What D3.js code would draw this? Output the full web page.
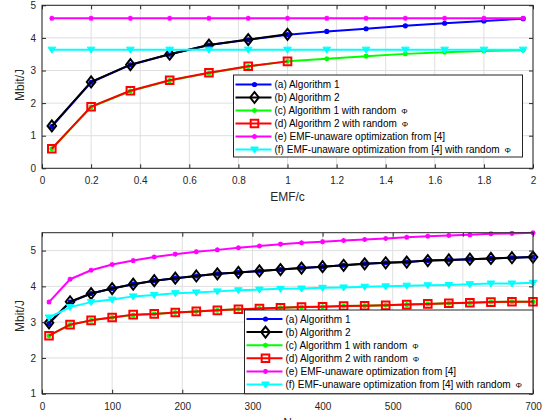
<!DOCTYPE html>
<html>
<head>
<meta charset="utf-8">
<script src="https://cdn.jsdelivr.net/npm/d3@7"></script>
<style>
  body { margin: 0; background: #fff; }
  svg { display: block; font-family: "Liberation Sans", Arial, Helvetica, sans-serif; }
</style>
</head>
<body>
<script>
// data top panel (x = EMF/c)
var topX = [0.04, 0.2, 0.36, 0.52, 0.68, 0.84, 1.0, 1.16, 1.32, 1.48, 1.64, 1.8, 1.96];
var topAlg1 = [1.28, 2.64, 3.17, 3.5, 3.78, 3.94, 4.1, 4.2, 4.28, 4.37, 4.45, 4.52, 4.59];
var topAlg2 = [1.3, 2.65, 3.18, 3.5, 3.78, 3.95, 4.11];
var topAlg1Rand = [0.6, 1.88, 2.37, 2.69, 2.92, 3.12, 3.28, 3.36, 3.44, 3.51, 3.56, 3.6, 3.62];
var topAlg2Rand = [0.6, 1.89, 2.38, 2.7, 2.93, 3.13, 3.28];
var topEmf = [4.6, 4.6, 4.6, 4.6, 4.6, 4.6, 4.6, 4.6, 4.6, 4.6, 4.6, 4.6, 4.6];
var topEmfRand = [3.64, 3.64, 3.64, 3.64, 3.64, 3.64, 3.64, 3.64, 3.64, 3.64, 3.64, 3.64, 3.64];

// data bottom panel (x = N)
var botX = [10, 40, 70, 100, 130, 160, 190, 220, 250, 280, 310, 340, 370, 400, 430, 460, 490, 520, 550, 580, 610, 640, 670, 700];
var botAlg1 = [2.96, 3.56, 3.8, 3.94, 4.06, 4.16, 4.23, 4.29, 4.35, 4.39, 4.43, 4.47, 4.51, 4.55, 4.59, 4.63, 4.66, 4.68, 4.72, 4.74, 4.76, 4.78, 4.8, 4.82];
var botAlg2 = [2.98, 3.57, 3.8, 3.94, 4.06, 4.16, 4.23, 4.29, 4.35, 4.39, 4.43, 4.47, 4.51, 4.55, 4.59, 4.63, 4.66, 4.68, 4.72, 4.74, 4.76, 4.78, 4.8, 4.82];
var botAlg1Rand = [2.62, 2.93, 3.05, 3.13, 3.2, 3.23, 3.27, 3.3, 3.33, 3.36, 3.38, 3.4, 3.42, 3.43, 3.45, 3.46, 3.47, 3.49, 3.51, 3.53, 3.54, 3.56, 3.57, 3.57];
var botAlg2Rand = [2.62, 2.93, 3.05, 3.13, 3.21, 3.23, 3.27, 3.3, 3.33, 3.36, 3.38, 3.4, 3.42, 3.43, 3.45, 3.46, 3.47, 3.49, 3.51, 3.53, 3.54, 3.56, 3.57, 3.57];
var botEmf = [3.56, 4.2, 4.45, 4.61, 4.72, 4.82, 4.9, 4.97, 5.02, 5.08, 5.13, 5.18, 5.22, 5.25, 5.28, 5.31, 5.34, 5.37, 5.4, 5.42, 5.44, 5.47, 5.48, 5.5];
var botEmfRand = [3.13, 3.42, 3.56, 3.63, 3.72, 3.76, 3.81, 3.83, 3.86, 3.89, 3.91, 3.93, 3.94, 3.96, 3.97, 3.99, 4.0, 4.02, 4.03, 4.04, 4.06, 4.08, 4.08, 4.1];

var labels = [
  "(a) Algorithm 1",
  "(b) Algorithm 2",
  "(c) Algorithm 1 with random",
  "(d) Algorithm 2 with random",
  "(e) EMF-unaware optimization from [4]",
  "(f) EMF-unaware optimization from [4] with random"
];
var hasPhi = [false, false, true, true, false, true];
var colors = ["#0000ff", "#000000", "#00ff00", "#ff0000", "#ff00ff", "#00ffff"];
var markers = ["dot", "diamond", "star", "square", "star", "tri"];

var topXTicks = [0, 0.2, 0.4, 0.6, 0.8, 1, 1.2, 1.4, 1.6, 1.8, 2];
var topYTicks = [0, 1, 2, 3, 4, 5];
var botXTicks = [0, 100, 200, 300, 400, 500, 600, 700];
var botYTicks = [1, 2, 3, 4, 5];

var W = 542, H = 420;
var svg = d3.select("body").append("svg").attr("width", W).attr("height", H);

function markerPath(type) {
  if (type == "diamond") return "M0,-5.5L4.3,0L0,5.5L-4.3,0Z";
  if (type == "square") return "M-3.8,-3.8H3.8V3.8H-3.8Z";
  if (type == "tri") return "M-3.8,-2.5H3.8L0,3.5Z";
  if (type == "star") return "M-2.5,0H2.5M0,-2.5V2.5M-1.8,-1.8L1.8,1.8M-1.8,1.8L1.8,-1.8";
  return null;
}

function drawMarker(sel, type, color) {
  if (type == "dot") {
    sel.append("circle").attr("r", 2.6).attr("fill", color);
  } else if (type == "tri") {
    sel.append("path").attr("d", markerPath(type)).attr("fill", color).attr("stroke", color).attr("stroke-width", 1);
  } else {
    sel.append("path").attr("d", markerPath(type)).attr("fill", "none")
      .attr("stroke", color).attr("stroke-width", type == "star" ? 1.4 : 2);
  }
}

function panel(cfg) {
  var x = d3.scaleLinear().domain(cfg.xDomain).range([42, 533]);
  var y = d3.scaleLinear().domain(cfg.yDomain).range([cfg.bottom, cfg.top]);
  var g = svg.append("g");

  // grid
  g.append("g").selectAll("line").data(cfg.xTicks).enter().append("line")
    .attr("x1", function (d) { return x(d); }).attr("x2", function (d) { return x(d); })
    .attr("y1", cfg.top).attr("y2", cfg.bottom)
    .attr("stroke", "#dfdfdf").attr("stroke-width", 1);
  g.append("g").selectAll("line").data(cfg.yTicks).enter().append("line")
    .attr("x1", 42).attr("x2", 533)
    .attr("y1", function (d) { return y(d); }).attr("y2", function (d) { return y(d); })
    .attr("stroke", "#dfdfdf").attr("stroke-width", 1);

  // series
  var line = d3.line().x(function (d) { return x(d[0]); }).y(function (d) { return y(d[1]); });
  cfg.series.forEach(function (vals, i) {
    var pts = vals.map(function (v, j) { return [cfg.xs[j], v]; });
    g.append("path").datum(pts).attr("d", line).attr("fill", "none")
      .attr("stroke", colors[i]).attr("stroke-width", 2).attr("stroke-linejoin", "round");
    var m = g.append("g").selectAll("g").data(pts).enter().append("g")
      .attr("transform", function (d) { return "translate(" + x(d[0]) + "," + y(d[1]) + ")"; });
    m.each(function () { drawMarker(d3.select(this), markers[i], colors[i]); });
  });

  // axes, ticks pointing inwards
  var ax = g.append("g").attr("font-size", 11.5);
  ax.append("g").attr("transform", "translate(0," + cfg.bottom + ")")
    .call(d3.axisBottom(x).tickValues(cfg.xTicks).tickSize(-4).tickPadding(9).tickFormat(d3.format("~g")));
  ax.append("g").attr("transform", "translate(0," + cfg.top + ")")
    .call(d3.axisTop(x).tickValues(cfg.xTicks).tickSize(-4).tickFormat(""));
  ax.append("g").attr("transform", "translate(42,0)")
    .call(d3.axisLeft(y).tickValues(cfg.yTicks).tickSize(-4).tickPadding(6).tickFormat(d3.format("~g")));
  ax.append("g").attr("transform", "translate(533,0)")
    .call(d3.axisRight(y).tickValues(cfg.yTicks).tickSize(-4).tickFormat(""));
  ax.selectAll(".domain").remove();
  ax.selectAll("line").attr("stroke", "#262626");
  ax.selectAll("text").attr("fill", "#262626").attr("font-family", "Liberation Sans, Arial, sans-serif");
  g.append("rect").attr("x", 42).attr("y", cfg.top).attr("width", 491).attr("height", cfg.bottom - cfg.top)
    .attr("fill", "none").attr("stroke", "#262626").attr("stroke-width", 1);

  // labels
  g.append("text").attr("x", 287.5).attr("y", cfg.xLabelY).attr("text-anchor", "middle")
    .attr("font-size", 12).attr("fill", "#262626").text(cfg.xLabel);
  g.append("text").attr("transform", "translate(24," + cfg.yLabelY + ") rotate(-90)")
    .attr("text-anchor", "middle").attr("font-size", 12).attr("fill", "#262626").text("Mbit/J");

  // legend
  var L = cfg.legend;
  var lg = g.append("g").attr("transform", "translate(" + L.x + "," + L.y + ")");
  lg.append("rect").attr("width", L.w).attr("height", L.h).attr("fill", "#fff")
    .attr("stroke", "#262626").attr("stroke-width", 1);
  var row = lg.selectAll("g.row").data(labels).enter().append("g").attr("class", "row")
    .attr("transform", function (d, i) { return "translate(0," + (L.first + i * L.step) + ")"; });
  row.append("line").attr("x1", 2).attr("x2", 38)
    .attr("stroke", function (d, i) { return colors[i]; }).attr("stroke-width", 2);
  row.each(function (d, i) {
    var s = d3.select(this).append("g").attr("transform", "translate(21,0)");
    drawMarker(s, markers[i], colors[i]);
  });
  var t = row.append("text").attr("x", 41).attr("dy", "0.35em").attr("font-size", 10).attr("fill", "#000")
    .text(function (d) { return d; });
  t.filter(function (d, i) { return hasPhi[i]; }).append("tspan").attr("dx", 5).attr("font-size", 8).text("Φ");
}

panel({
  xDomain: [0, 2], yDomain: [0, 5], top: 5.3, bottom: 168.3,
  xTicks: topXTicks, yTicks: topYTicks, xs: topX,
  series: [topAlg1, topAlg2, topAlg1Rand, topAlg2Rand, topEmf, topEmfRand],
  xLabel: "EMF/c", xLabelY: 201, yLabelY: 85,
  legend: { x: 233.5, y: 75, w: 289, h: 82, first: 9.5, step: 13 }
});

// the N label sits mostly below the window edge, as in the original figure
panel({
  xDomain: [0, 700], yDomain: [1, 5.5], top: 232.7, bottom: 393.7,
  xTicks: botXTicks, yTicks: botYTicks, xs: botX,
  series: [botAlg1, botAlg2, botAlg1Rand, botAlg2Rand, botEmf, botEmfRand],
  xLabel: "N", xLabelY: 427, yLabelY: 316,
  legend: { x: 244.5, y: 310, w: 288.5, h: 83.7, first: 9, step: 13.1 }
});
</script>
</body>
</html>
